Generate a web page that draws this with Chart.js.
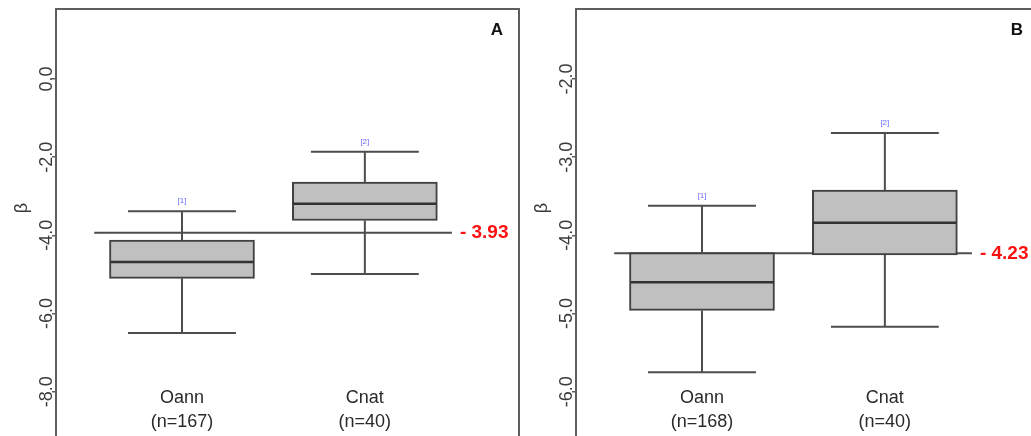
<!DOCTYPE html>
<html>
<head>
<meta charset="utf-8">
<script src="https://cdn.jsdelivr.net/npm/chart.js@4.4.1/dist/chart.umd.min.js"></script>
<style>
html, body { margin: 0; padding: 0; width: 1031px; height: 436px; overflow: hidden; background: #fff; }
.panel { position: absolute; top: 0; width: 520px; height: 460px; }
#wrapA { left: 0; }
#wrapB { left: 520px; }
</style>
</head>
<body>
<div class="panel" id="wrapA"><canvas id="chartA" width="520" height="460"></canvas></div>
<div class="panel" id="wrapB"><canvas id="chartB" width="520" height="460"></canvas></div>
<script>
// --- data ---
const categories = ['Oann', 'Cnat'];
const groupTags = ['[1]', '[2]'];

// panel A
const sampleA = ['(n=167)', '(n=40)'];
const minA = [-6.50, -4.99];
const q1A = [-5.10, -3.62];
const medA = [-4.68, -3.19];
const q3A = [-4.12, -2.64];
const maxA = [-3.38, -1.86];
const refA = -3.93;
const refLabelA = '- 3.93';
const ticksA = [0, -2, -4, -6, -8];
const rangeA = [-9.49, 1.79];

// panel B
const sampleB = ['(n=168)', '(n=40)'];
const minB = [-5.75, -5.17];
const q1B = [-4.96, -4.25];
const medB = [-4.60, -3.84];
const q3B = [-4.22, -3.42];
const maxB = [-3.62, -2.69];
const refB = -4.23;
const refLabelB = '- 4.23';
const ticksB = [-2, -3, -4, -5, -6];
const rangeB = [-6.745, -1.105];

// x layout (category i sits at x = i + 1)
const xRange = [0.311, 2.843];
const boxHalf = 0.392;
const capHalf = 0.295;
const refSpan = [0.52, 2.476];

const FONT = '"Liberation Sans", Arial, sans-serif';
const LINE = '#4d4d4d';

function segments(pairs) {
    // pairs: [[p1, p2], ...] -> points with null breaks between segments
    const out = [];
    pairs.forEach(function(p, i) {
        if (i > 0) out.push({ x: NaN, y: null });
        out.push(p[0], p[1]);
    });
    return out;
}

function makeChart(canvasId, d) {
    const pos = categories.map((c, i) => i + 1);

    const whiskers = segments(pos.flatMap((x, i) => [
        [{ x: x, y: d.q3[i] }, { x: x, y: d.max[i] }],
        [{ x: x, y: d.q1[i] }, { x: x, y: d.min[i] }]
    ]));
    const caps = segments(pos.flatMap((x, i) => [
        [{ x: x - capHalf, y: d.max[i] }, { x: x + capHalf, y: d.max[i] }],
        [{ x: x - capHalf, y: d.min[i] }, { x: x + capHalf, y: d.min[i] }]
    ]));
    const medians = segments(pos.map((x, i) =>
        [{ x: x - boxHalf, y: d.med[i] }, { x: x + boxHalf, y: d.med[i] }]
    ));

    const textPlugin = {
        id: 'panelText',
        afterDraw: function(chart) {
            const ctx = chart.ctx;
            const area = chart.chartArea;
            const xs = chart.scales.x;
            const ys = chart.scales.y;
            ctx.save();

            // frame
            ctx.strokeStyle = '#5e5e5e';
            ctx.lineWidth = 2;
            ctx.strokeRect(area.left, area.top, area.right - area.left, area.bottom - area.top);

            // y tick labels, rotated
            ctx.fillStyle = '#3a3a3a';
            ctx.font = '18px ' + FONT;
            ctx.textAlign = 'center';
            ctx.textBaseline = 'alphabetic';
            d.ticks.forEach(function(v) {
                const py = ys.getPixelForValue(v);
                ctx.save();
                ctx.translate(area.left - 4, py);
                ctx.rotate(-Math.PI / 2);
                ctx.fillText(v.toFixed(1), 0, 0);
                ctx.restore();
            });

            // axis title
            ctx.save();
            ctx.translate(27, 208);
            ctx.rotate(-Math.PI / 2);
            ctx.font = '18px ' + FONT;
            ctx.fillText('\u03B2', 0, 0);
            ctx.restore();

            // category labels
            ctx.fillStyle = '#2a2a2a';
            ctx.font = '18px ' + FONT;
            ctx.textBaseline = 'middle';
            pos.forEach(function(x, i) {
                const px = xs.getPixelForValue(x);
                ctx.fillText(categories[i], px, 398);
                ctx.fillText(d.samples[i], px, 422);
            });

            // group tags above upper whiskers
            ctx.fillStyle = '#6a6aff';
            ctx.font = '8px ' + FONT;
            pos.forEach(function(x, i) {
                ctx.fillText(groupTags[i], xs.getPixelForValue(x), ys.getPixelForValue(d.max[i]) - 10);
            });

            // reference value label
            ctx.fillStyle = '#ff1010';
            ctx.font = 'bold 19px ' + FONT;
            ctx.textAlign = 'left';
            ctx.fillText(d.refLabel, xs.getPixelForValue(refSpan[1]) + 8, ys.getPixelForValue(d.ref));

            // panel letter
            ctx.fillStyle = '#111';
            ctx.font = 'bold 17px ' + FONT;
            ctx.textAlign = 'center';
            ctx.fillText(d.letter, area.right - 22, 30);

            ctx.restore();
        }
    };

    const lineStyle = {
        type: 'line',
        borderColor: LINE,
        borderWidth: 2,
        pointRadius: 0,
        spanGaps: false,
        fill: false
    };

    return new Chart(document.getElementById(canvasId), {
        type: 'bar',
        data: {
            datasets: [
                Object.assign({}, lineStyle, {
                    label: 'reference',
                    order: 5,
                    data: [{ x: refSpan[0], y: d.ref }, { x: refSpan[1], y: d.ref }]
                }),
                {
                    type: 'bar',
                    label: 'box',
                    order: 4,
                    data: pos.map((x, i) => ({ x: x, y: [d.q1[i], d.q3[i]] })),
                    backgroundColor: '#c0c0c0',
                    borderColor: '#404040',
                    borderWidth: 2,
                    borderSkipped: false,
                    barThickness: 145
                },
                Object.assign({}, lineStyle, { label: 'whisker', order: 3, data: whiskers }),
                Object.assign({}, lineStyle, { label: 'cap', order: 2, data: caps }),
                Object.assign({}, lineStyle, {
                    label: 'median', order: 1, data: medians,
                    borderColor: '#333', borderWidth: 2.5
                })
            ]
        },
        options: {
            responsive: false,
            animation: false,
            devicePixelRatio: 1,
            layout: { padding: { top: 9, right: 1, bottom: 10, left: 0 } },
            plugins: {
                legend: { display: false },
                tooltip: { enabled: false }
            },
            scales: {
                x: {
                    type: 'linear',
                    display: false,
                    min: xRange[0],
                    max: xRange[1],
                    offset: false
                },
                y: {
                    type: 'linear',
                    position: 'left',
                    min: d.range[0],
                    max: d.range[1],
                    afterBuildTicks: function(scale) {
                        scale.ticks = d.ticks.map(v => ({ value: v }));
                    },
                    afterFit: function(scale) {
                        scale.width = 56;
                    },
                    ticks: { display: false },
                    border: { display: false },
                    grid: {
                        display: true,
                        drawOnChartArea: false,
                        drawTicks: true,
                        tickLength: 4,
                        color: '#5e5e5e',
                        lineWidth: 1.5
                    }
                }
            }
        },
        plugins: [textPlugin]
    });
}

makeChart('chartA', {
    min: minA, q1: q1A, med: medA, q3: q3A, max: maxA,
    ref: refA, refLabel: refLabelA, ticks: ticksA, range: rangeA,
    samples: sampleA, letter: 'A'
});
makeChart('chartB', {
    min: minB, q1: q1B, med: medB, q3: q3B, max: maxB,
    ref: refB, refLabel: refLabelB, ticks: ticksB, range: rangeB,
    samples: sampleB, letter: 'B'
});
</script>
</body>
</html>
